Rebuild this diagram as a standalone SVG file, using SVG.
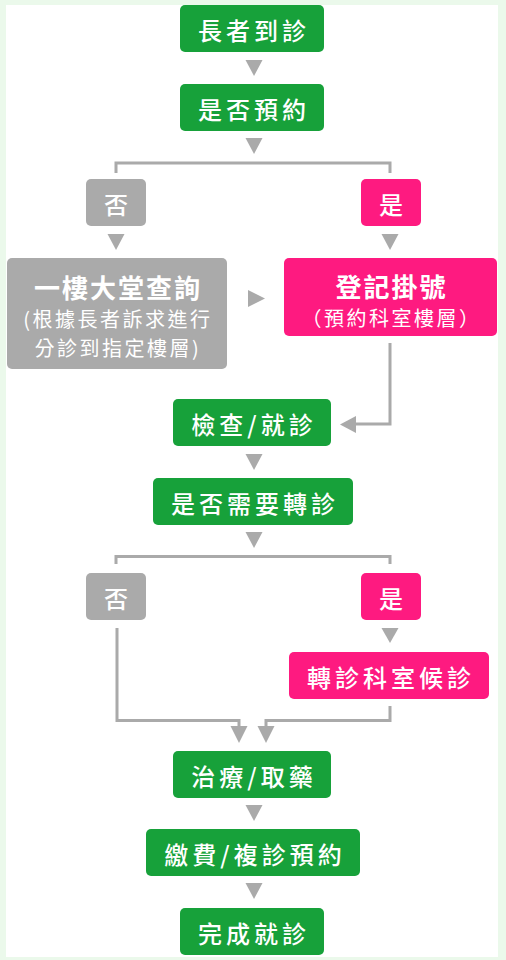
<svg xmlns="http://www.w3.org/2000/svg" width="506" height="960" viewBox="0 0 506 960">
<style>
.g{fill:#17a13a}
.p{fill:#fe1a80}
.n{fill:#aaaaaa}
text{font-family:"Noto Sans CJK TC","Noto Sans CJK SC",sans-serif;fill:#ffffff;text-anchor:middle;dominant-baseline:central}
.t{font-size:24px;letter-spacing:4px;font-weight:500}
.h{font-size:26px;letter-spacing:2px;font-weight:700}
.s{font-size:20px;letter-spacing:2.5px;font-weight:400}
.ln{fill:none;stroke:#aaaaaa;stroke-width:3}
.ar{fill:#aaaaaa}
</style>
<rect x="0" y="0" width="506" height="960" fill="#ebf9eb"/>
<rect x="6" y="5" width="492" height="952" fill="#ffffff"/>
<g id="connectors">
<polygon class="ar" points="245.5,60 262.5,60 254,76"/>
<polygon class="ar" points="245.5,138 262.5,138 254,154"/>
<path class="ln" d="M116,173 V163 H390 V173"/>
<polygon class="ar" points="107.5,234 124.5,234 116,250"/>
<polygon class="ar" points="381.5,234 398.5,234 390,250"/>
<polygon class="ar" points="248,290 248,307 265,298.5"/>
<path class="ln" d="M390,343 V424 H355"/>
<polygon class="ar" points="356,416 356,433 340,424.5"/>
<polygon class="ar" points="245.5,454 262.5,454 254,470"/>
<polygon class="ar" points="245.5,532 262.5,532 254,548"/>
<path class="ln" d="M116,564 V556.5 H390 V564"/>
<path class="ln" d="M117,628 V720.5 H239 V727"/>
<polygon class="ar" points="381.5,628 398.5,628 390,643"/>
<path class="ln" d="M390,706 V720.5 H266 V727"/>
<polygon class="ar" points="230.5,726 247.5,726 239,743"/>
<polygon class="ar" points="257.5,726 274.5,726 266,743"/>
<polygon class="ar" points="245.5,805 262.5,805 254,821"/>
<polygon class="ar" points="245.5,883 262.5,883 254,899"/>
</g>
<g id="n1"><rect class="g" x="180" y="5" width="144" height="47" rx="5"/><text class="t" x="254" y="29">長者到診</text></g>
<g id="n2"><rect class="g" x="180" y="84" width="144" height="47" rx="5"/><text class="t" x="254" y="108">是否預約</text></g>
<g id="n3"><rect class="n" x="86" y="179" width="60" height="47" rx="5"/><text class="t" x="118" y="203">否</text></g>
<g id="n4"><rect class="p" x="361" y="179" width="60" height="47" rx="5"/><text class="t" x="393" y="203">是</text></g>
<g id="n5"><rect class="n" x="7" y="258" width="220" height="111" rx="5"/>
<text class="h" x="118" y="286">一樓大堂查詢</text>
<text class="s" x="118" y="318">(根據長者訴求進行</text>
<text class="s" x="118" y="347">分診到指定樓層)</text></g>
<g id="n6"><rect class="p" x="284" y="258" width="213" height="78" rx="5"/>
<text class="h" x="391.5" y="285">登記掛號</text>
<text class="s" x="391.5" y="317">（預約科室樓層）</text></g>
<g id="n7"><rect class="g" x="173" y="399" width="158" height="47" rx="5"/><text class="t" x="254" y="423">檢查/就診</text></g>
<g id="n8"><rect class="g" x="153" y="478" width="200" height="47" rx="5"/><text class="t" x="255" y="502">是否需要轉診</text></g>
<g id="n9"><rect class="n" x="86" y="573" width="60" height="47" rx="5"/><text class="t" x="118" y="597">否</text></g>
<g id="n10"><rect class="p" x="361" y="573" width="60" height="47" rx="5"/><text class="t" x="393" y="597">是</text></g>
<g id="n11"><rect class="p" x="289" y="652" width="200" height="47" rx="5"/><text class="t" x="391" y="676">轉診科室候診</text></g>
<g id="n12"><rect class="g" x="173" y="751" width="158" height="47" rx="5"/><text class="t" x="254" y="775">治療/取藥</text></g>
<g id="n13"><rect class="g" x="146" y="829" width="214" height="47" rx="5"/><text class="t" x="255" y="853">繳費/複診預約</text></g>
<g id="n14"><rect class="g" x="180" y="908" width="144" height="47" rx="5"/><text class="t" x="254" y="932">完成就診</text></g>
</svg>
